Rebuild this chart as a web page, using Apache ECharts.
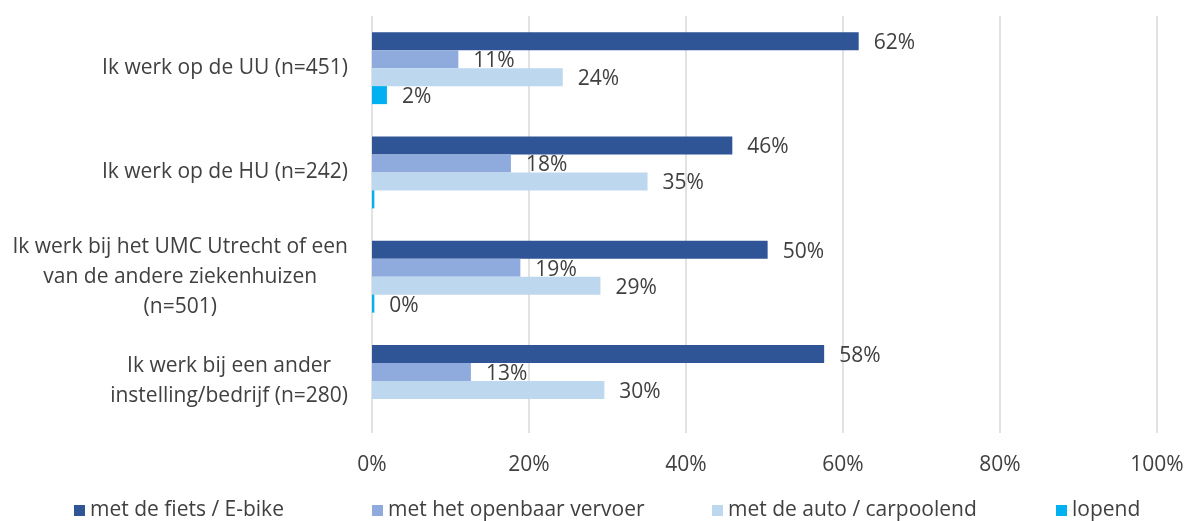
<!DOCTYPE html>
<html>
<head>
<meta charset="utf-8">
<script src="https://cdn.jsdelivr.net/npm/echarts@6/dist/echarts.min.js"></script>
<style>
  html, body { margin: 0; padding: 0; background: #fff; }
  #chart { width: 1188px; height: 521px; }
</style>
</head>
<body>
<div id="chart"></div>
<script>
const categories = [
    'Ik werk op de UU (n=451)',
    'Ik werk op de HU (n=242)',
    'Ik werk bij het UMC Utrecht of een\nvan de andere ziekenhuizen\n(n=501)',
    'Ik werk bij een ander\ninstelling/bedrijf (n=280)',
];
const seriesNames = ['met de fiets / E-bike', 'met het openbaar vervoer', 'met de auto / carpoolend', 'lopend'];
const fiets = [62, 45.9, 50.4, 57.6];
const ov = [11, 17.7, 18.9, 12.6];
const auto = [24.3, 35.1, 29.1, 29.6];
const lopend = [1.9, 0.3, 0.3, null];
// the HU "lopend" bar has no label in the original
const hiddenLabels = { 3: [1] };
const colors = ['#2F5597', '#8FAADC', '#BDD7EE', '#00B0F0'];
const tickLabels = ['0%', '20%', '40%', '60%', '80%', '100%'];

const font = 'Open Sans';
const fontSize = 21;
const textColor = '#404040';

const chart = echarts.init(document.getElementById('chart'));

const makeSeries = (name, values, idx) => ({
    name: name,
    type: 'bar',
    barWidth: 18,
    barGap: '0%',
    itemStyle: { color: colors[idx] },
    data: values.map((v, i) => {
        const hide = (hiddenLabels[idx] || []).includes(i);
        return hide ? { value: v, label: { show: false } } : v;
    }),
    label: {
        show: true,
        position: 'right',
        distance: 15,
        offset: [0, 2],
        color: textColor,
        fontFamily: font,
        fontSize: fontSize,
        formatter: (p) => Math.round(p.value) + '%',
    },
});

// one legend per item so each entry sits where the original puts it
const legendLefts = [74, 372, 712, 1056];
const legends = seriesNames.map((n, i) => ({
    data: [n],
    left: legendLefts[i],
    bottom: 0,
    padding: 0,
    itemWidth: 11,
    itemHeight: 11,
    itemGap: 0,
    icon: 'rect',
    textStyle: { color: textColor, fontFamily: font, fontSize: fontSize },
}));

chart.setOption({
    animation: false,
    grid: { left: 372, right: 31, top: 16, bottom: 88 },
    legend: legends,
    xAxis: {
        type: 'value',
        min: 0,
        max: 100,
        interval: 20,
        axisLine: { show: false },
        axisTick: { show: false },
        splitLine: { lineStyle: { color: '#D9D9D9', width: 1.5 } },
        axisLabel: {
            margin: 22,
            color: textColor,
            fontFamily: font,
            fontSize: fontSize,
            formatter: (v) => tickLabels[v / 20],
        },
    },
    yAxis: {
        type: 'category',
        inverse: true,
        data: categories,
        axisLine: { show: false },
        axisTick: { show: false },
        axisLabel: {
            margin: 24,
            color: textColor,
            fontFamily: font,
            fontSize: fontSize,
            lineHeight: 30,
            formatter: (v) => v.split('\n').map((l) => '{c|' + l + '}').join('\n'),
            rich: {
                c: { align: 'center', color: textColor, fontFamily: font, fontSize: fontSize, lineHeight: 30 },
            },
        },
    },
    series: [
        makeSeries(seriesNames[0], fiets, 0),
        makeSeries(seriesNames[1], ov, 1),
        makeSeries(seriesNames[2], auto, 2),
        makeSeries(seriesNames[3], lopend, 3),
    ],
});
</script>
</body>
</html>
